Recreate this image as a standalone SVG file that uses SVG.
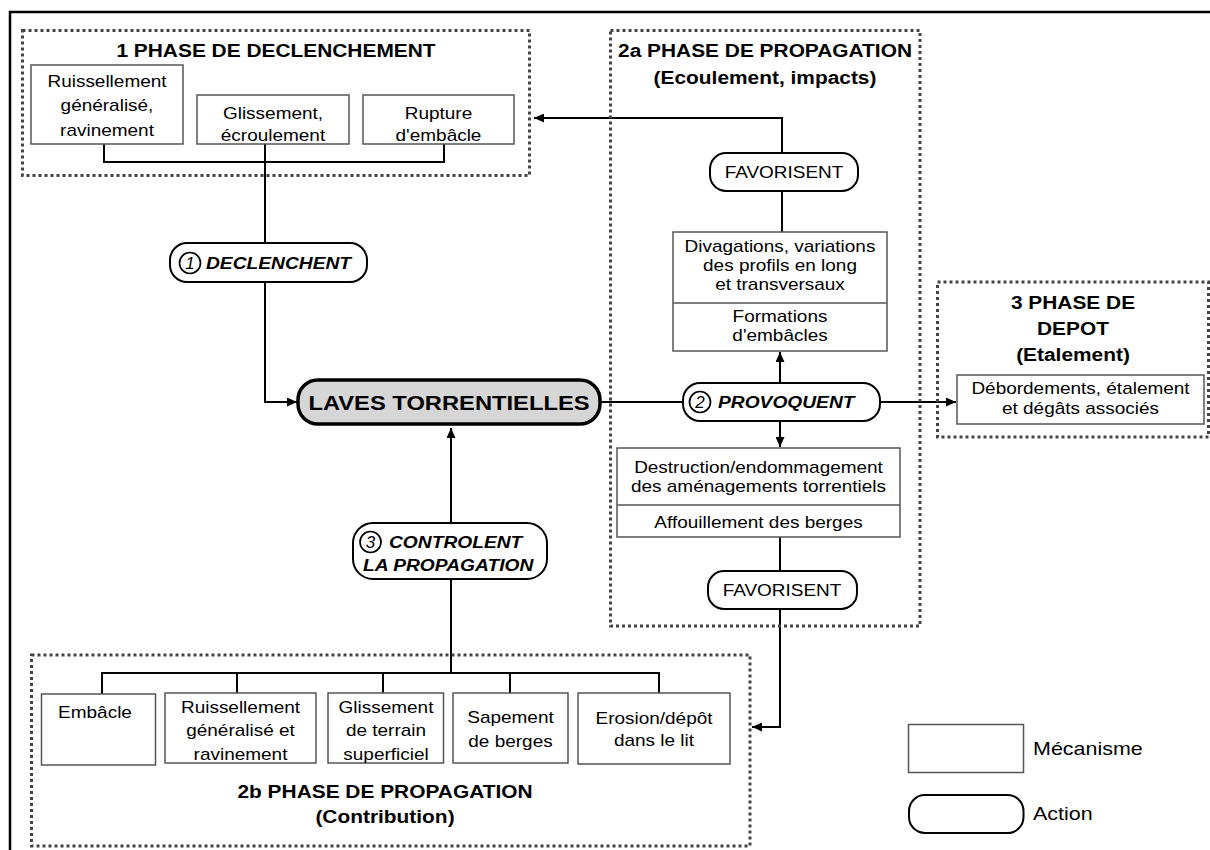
<svg xmlns="http://www.w3.org/2000/svg" width="1210" height="850" viewBox="0 0 1210 850">
<defs>
<marker id="arr" markerUnits="userSpaceOnUse" markerWidth="11" markerHeight="9" refX="10" refY="4.5" orient="auto">
<path d="M0,0 L10,4.5 L0,9 z" fill="#000"/>
</marker>
<style>
.frame{fill:none;stroke:#000;stroke-width:2.5}
.phase{fill:none;stroke:#444;stroke-width:3;stroke-dasharray:3 3}
.mech{fill:#fff;stroke:#555;stroke-width:1.5}
.sep{stroke:#555;stroke-width:1.5}
.act{fill:#fff;stroke:#000;stroke-width:2}
.main{fill:#d6d6d6;stroke:#000;stroke-width:3.5}
.num{fill:none;stroke:#000;stroke-width:1.7}
.conn{fill:none;stroke:#000;stroke-width:2}
text{font-family:"Liberation Sans",Arial,Helvetica,sans-serif;fill:#000}
.t{font-size:16.8px;text-anchor:middle}
.ti{font-size:18.5px;font-weight:bold;text-anchor:middle}
.ai{font-size:17px;font-weight:bold;font-style:italic}
.nb{font-size:17px;font-style:italic;text-anchor:middle}
.big{font-size:21px;font-weight:bold;text-anchor:middle}
.lg{font-size:19px}
</style>
</defs>
<rect width="1210" height="850" fill="#fff"/>
<path class="frame" d="M10,852 V12 H1212"/>

<g id="connectors">
<path class="conn" d="M104,144 V162 H444 V144"/>
<path class="conn" d="M265,144 V243"/>
<path class="conn" d="M265,282 V402 H297" marker-end="url(#arr)"/>
<path class="conn" d="M782,153 V118 H534" marker-end="url(#arr)"/>
<path class="conn" d="M782,191 V232"/>
<path class="conn" d="M600,402 H683"/>
<path class="conn" d="M780,383 V352" marker-end="url(#arr)"/>
<path class="conn" d="M780,421 V447" marker-end="url(#arr)"/>
<path class="conn" d="M880,402 H956" marker-end="url(#arr)"/>
<path class="conn" d="M780,537 V571"/>
<path class="conn" d="M780,609 V727 H752" marker-end="url(#arr)"/>
<path class="conn" d="M451,673 V579"/>
<path class="conn" d="M451,523 V428" marker-end="url(#arr)"/>
<path class="conn" d="M102,694 V673 H659 V693"/>
<path class="conn" d="M237,673 V693"/>
<path class="conn" d="M383,673 V693"/>
<path class="conn" d="M510,673 V693"/>
</g>

<g id="phase1">
<rect class="phase" x="22.5" y="30.5" width="507" height="145"/>
<text class="ti" transform="translate(276 57) scale(1.13 1)">1 PHASE DE DECLENCHEMENT</text>
</g>
<g id="ruissellement1">
<rect class="mech" x="31" y="65" width="152" height="79"/>
<text class="t" transform="translate(107 0) scale(1.13 1)"><tspan x="0" y="87">Ruissellement</tspan><tspan x="0" y="111.5">généralisé,</tspan><tspan x="0" y="136">ravinement</tspan></text>
</g>
<g id="glissement1">
<rect class="mech" x="197" y="95" width="152" height="49"/>
<text class="t" transform="translate(273 0) scale(1.13 1)"><tspan x="0" y="119.5">Glissement,</tspan><tspan x="0" y="141">écroulement</tspan></text>
</g>
<g id="rupture1">
<rect class="mech" x="363" y="95" width="151" height="49"/>
<text class="t" transform="translate(438.5 0) scale(1.13 1)"><tspan x="0" y="119.5">Rupture</tspan><tspan x="0" y="141">d'embâcle</tspan></text>
</g>

<g id="declenchent">
<rect class="act" x="170" y="243" width="197" height="39" rx="17"/>
<circle class="num" cx="190" cy="263" r="10.5"/>
<text class="nb" x="190" y="269">1</text>
<text class="ai" transform="translate(206 269) scale(1.13 1)">DECLENCHENT</text>
</g>

<g id="laves">
<rect class="main" x="298" y="380" width="302" height="44" rx="20"/>
<text class="big" transform="translate(449 409.5) scale(1.13 1)">LAVES TORRENTIELLES</text>
</g>

<g id="phase2a">
<rect class="phase" x="610.5" y="30.5" width="309.5" height="595.5"/>
<text class="ti" transform="translate(765 57) scale(1.13 1)">2a PHASE DE PROPAGATION</text>
<text class="ti" transform="translate(765 84) scale(1.13 1)">(Ecoulement, impacts)</text>
</g>
<g id="favorisent1">
<rect class="act" x="710" y="153" width="148" height="38" rx="16"/>
<text class="t" transform="translate(784 178) scale(1.13 1)">FAVORISENT</text>
</g>
<g id="divagations">
<rect class="mech" x="673" y="232" width="214" height="119"/>
<line class="sep" x1="673" y1="303" x2="887" y2="303"/>
<text class="t" transform="translate(780 0) scale(1.13 1)"><tspan x="0" y="252">Divagations, variations</tspan><tspan x="0" y="271">des profils en long</tspan><tspan x="0" y="290">et transversaux</tspan><tspan x="0" y="322">Formations</tspan><tspan x="0" y="341">d'embâcles</tspan></text>
</g>
<g id="provoquent">
<rect class="act" x="683" y="383" width="197" height="38" rx="17"/>
<circle class="num" cx="700" cy="402" r="10.5"/>
<text class="nb" x="700" y="408">2</text>
<text class="ai" transform="translate(718 408) scale(1.13 1)">PROVOQUENT</text>
</g>
<g id="destruction">
<rect class="mech" x="617" y="448" width="283" height="89"/>
<line class="sep" x1="617" y1="505" x2="900" y2="505"/>
<text class="t" transform="translate(758.5 0) scale(1.13 1)"><tspan x="0" y="473">Destruction/endommagement</tspan><tspan x="0" y="492">des aménagements torrentiels</tspan><tspan x="0" y="528">Affouillement des berges</tspan></text>
</g>
<g id="favorisent2">
<rect class="act" x="708" y="571" width="149" height="38" rx="16"/>
<text class="t" transform="translate(782 596) scale(1.13 1)">FAVORISENT</text>
</g>

<g id="phase3">
<rect class="phase" x="937.5" y="282" width="271" height="155"/>
<text class="ti" transform="translate(1073 0) scale(1.13 1)"><tspan x="0" y="309.5">3 PHASE DE</tspan><tspan x="0" y="335.5">DEPOT</tspan><tspan x="0" y="361">(Etalement)</tspan></text>
</g>
<g id="debordements">
<rect class="mech" x="957" y="375" width="247" height="49"/>
<text class="t" transform="translate(1080.5 0) scale(1.13 1)"><tspan x="0" y="394">Débordements, étalement</tspan><tspan x="0" y="414">et dégâts associés</tspan></text>
</g>

<g id="controlent">
<rect class="act" x="353" y="523" width="194" height="56" rx="20"/>
<circle class="num" cx="370.5" cy="542" r="10.5"/>
<text class="nb" x="370.5" y="548">3</text>
<text class="ai" transform="translate(389 548) scale(1.13 1)">CONTROLENT</text>
<text class="ai" transform="translate(363 571) scale(1.13 1)">LA PROPAGATION</text>
</g>

<g id="phase2b">
<rect class="phase" x="31.5" y="655" width="718.5" height="191"/>
<text class="ti" transform="translate(385 798) scale(1.13 1)">2b PHASE DE PROPAGATION</text>
<text class="ti" transform="translate(385 823) scale(1.13 1)">(Contribution)</text>
</g>
<g id="embacle">
<rect class="mech" x="41.5" y="694" width="114" height="71"/>
<text class="t" transform="translate(95 718) scale(1.13 1)">Embâcle</text>
</g>
<g id="ruissellement2">
<rect class="mech" x="165" y="693" width="151" height="70"/>
<text class="t" transform="translate(240.5 0) scale(1.13 1)"><tspan x="0" y="713">Ruissellement</tspan><tspan x="0" y="736.5">généralisé et</tspan><tspan x="0" y="760">ravinement</tspan></text>
</g>
<g id="glissement2">
<rect class="mech" x="328" y="693" width="115.5" height="70"/>
<text class="t" transform="translate(386 0) scale(1.13 1)"><tspan x="0" y="713">Glissement</tspan><tspan x="0" y="736.5">de terrain</tspan><tspan x="0" y="760">superficiel</tspan></text>
</g>
<g id="sapement">
<rect class="mech" x="453" y="693" width="115" height="70"/>
<text class="t" transform="translate(510.5 0) scale(1.13 1)"><tspan x="0" y="723">Sapement</tspan><tspan x="0" y="747">de berges</tspan></text>
</g>
<g id="erosion">
<rect class="mech" x="578" y="693" width="152" height="71"/>
<text class="t" transform="translate(654 0) scale(1.13 1)"><tspan x="0" y="724">Erosion/dépôt</tspan><tspan x="0" y="746">dans le lit</tspan></text>
</g>

<g id="legend">
<rect class="mech" x="908.5" y="724.5" width="115" height="48"/>
<text class="lg" transform="translate(1033 754.5) scale(1.13 1)">Mécanisme</text>
<rect class="act" x="909" y="795" width="114.5" height="38" rx="16"/>
<text class="lg" transform="translate(1033 819.5) scale(1.13 1)">Action</text>
</g>
</svg>
